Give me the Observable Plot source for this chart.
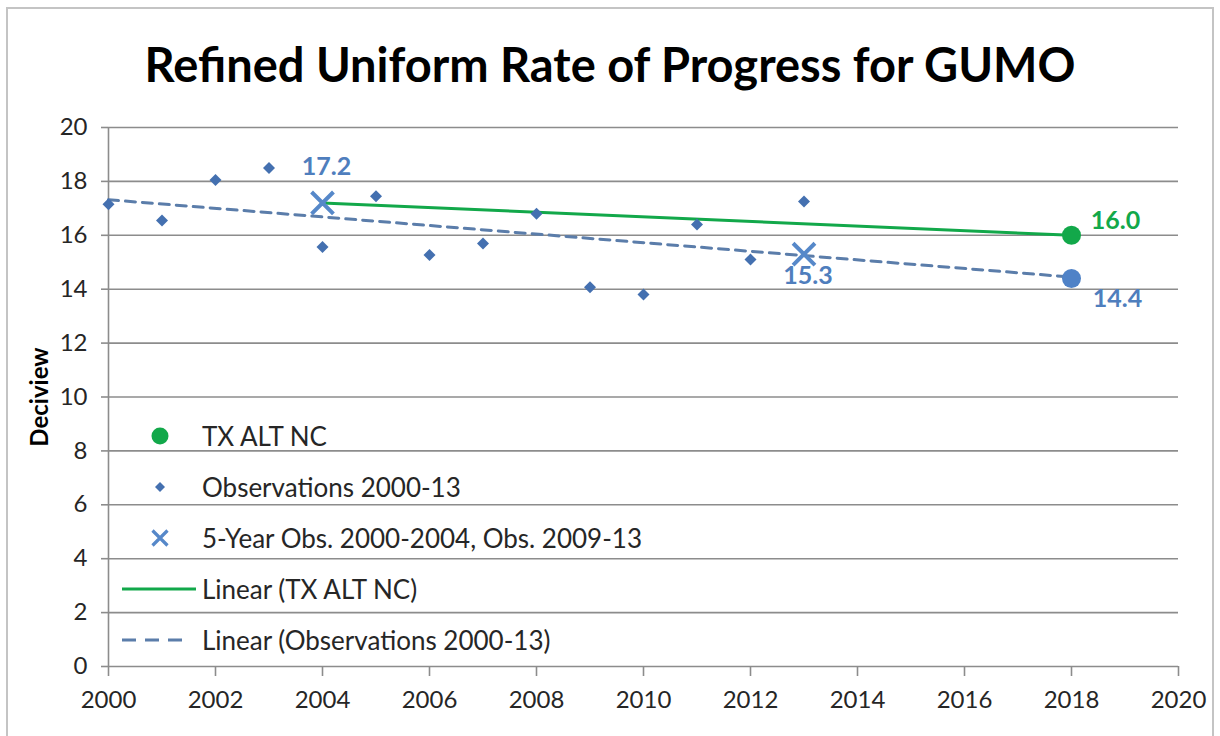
<!DOCTYPE html>
<html><head><meta charset="utf-8">
<script src="https://cdn.jsdelivr.net/npm/d3@7"></script>
<script src="https://cdn.jsdelivr.net/npm/@observablehq/plot@0.6"></script>
<style>
body{margin:0;background:#fff;}
#chart{position:relative;width:1220px;height:736px;overflow:hidden;font-family:Lato,sans-serif;background:#fff;}
#frame{position:absolute;left:6px;top:7px;width:1204px;height:740px;border:2px solid #c4c4c4;}
#title{position:absolute;left:0;top:34px;width:1220px;text-align:center;font-weight:700;font-size:47px;color:#000;line-height:60px;}
#plot{position:absolute;left:0;top:100px;}
#legend{position:absolute;left:110px;top:411px;font-size:26px;color:#262626;}
.row{position:absolute;left:0;height:50px;display:flex;align-items:center;white-space:nowrap;}
.row svg{width:92px;height:50px;flex:none;}
</style></head>
<body>
<div id="chart">
  <div id="frame"></div>
  <div id="title"></div>
  <div id="plot"></div>
  <div id="legend"></div>
</div>
<script>
const titleText = "Refined Uniform Rate of Progress for GUMO";
const yLabel = "Deciview";

const obsYears  = [2000,2001,2002,2003,2004,2005,2006,2007,2008,2009,2010,2011,2012,2013];
const obsValues = [17.15,16.55,18.05,18.5,15.57,17.45,15.27,15.7,16.8,14.07,13.8,16.4,15.1,17.25];

const fiveYearYears  = [2004, 2013];
const fiveYearValues = [17.2, 15.3];

const txAltYears  = [2004, 2018];
const txAltValues = [17.2, 16.0];

const obsTrendYears  = [2000, 2018];
const obsTrendValues = [17.32, 14.45];

const endYear = 2018;
const txAltEnd = 16.0;
const obsEnd = 14.4;

const xTicks = [2000,2002,2004,2006,2008,2010,2012,2014,2016,2018,2020];
const yTicks = [0,2,4,6,8,10,12,14,16,18,20];

const legendLabels = ["TX ALT NC","Observations 2000-13","5-Year Obs. 2000-2004, Obs. 2009-13","Linear (TX ALT NC)","Linear (Observations 2000-13)"];

const zip = (xs, ys) => xs.map((x, i) => ({year: x, value: ys[i]}));
const obs = zip(obsYears, obsValues);
const fiveYear = zip(fiveYearYears, fiveYearValues);
const txAlt = zip(txAltYears, txAltValues);
const obsTrend = zip(obsTrendYears, obsTrendValues);
const greenEnd = [{year: endYear, value: txAltEnd}];
const blueEnd = [{year: endYear, value: obsEnd}];

const GREEN = "#12a84a", BLUE_D = "#4470b0", BLUE_X = "#5688c9", BLUE_C = "#4f82c7", DASH = "#5b7daa", LABEL_BLUE = "#4f7ebd", GRID = "#8c8c8c";

document.getElementById("title").textContent = titleText;

const fmt1 = d3.format(".1f");

const plot = Plot.plot({
  width: 1220, height: 636,
  marginLeft: 108, marginRight: 42, marginTop: 27, marginBottom: 70,
  style: {fontFamily: "Lato, sans-serif", fontSize: "24px", color: "#262626", background: "transparent", overflow: "visible"},
  x: {domain: [2000, 2020]},
  y: {domain: [0, 20]},
  marks: [
    Plot.gridY(yTicks, {stroke: GRID, strokeOpacity: 1, strokeWidth: 1.6}),
    Plot.axisY(yTicks, {tickSize: 7, tickPadding: 14, stroke: GRID, strokeWidth: 1.6, label: yLabel, labelAnchor: "center", labelArrow: "none", labelOffset: 78, fontSize: 24}),
    Plot.ruleX([2000], {stroke: GRID, strokeWidth: 1.6}),
    Plot.axisX(xTicks, {tickSize: 10, tickPadding: 14, stroke: GRID, strokeWidth: 1.6, tickFormat: "d", label: null, fontSize: 24}),
    Plot.line(obsTrend, {x: "year", y: "value", stroke: DASH, strokeWidth: 3, strokeDasharray: "10,7"}),
    Plot.line(txAlt, {x: "year", y: "value", stroke: GREEN, strokeWidth: 3}),
    Plot.dot(obs, {x: "year", y: "value", symbol: "diamond2", r: 5.4, fill: BLUE_D, stroke: "none"}),
    Plot.dot(fiveYear, {x: "year", y: "value", symbol: "times", r: 10, stroke: BLUE_X, strokeWidth: 4}),
    Plot.dot(greenEnd, {x: "year", y: "value", r: 9.5, fill: GREEN, stroke: "none"}),
    Plot.dot(blueEnd, {x: "year", y: "value", r: 9.5, fill: BLUE_C, stroke: "none"}),
    Plot.text(fiveYear.slice(0,1), {x: "year", y: "value", text: d => fmt1(d.value), dy: -36, dx: 4, fill: LABEL_BLUE, fontWeight: 700, fontSize: 25}),
    Plot.text(fiveYear.slice(1), {x: "year", y: "value", text: d => fmt1(d.value), dy: 22, dx: 4, fill: LABEL_BLUE, fontWeight: 700, fontSize: 25}),
    Plot.text(greenEnd, {x: "year", y: "value", text: d => fmt1(d.value), dx: 44, dy: -14, fill: GREEN, fontWeight: 700, fontSize: 25}),
    Plot.text(blueEnd, {x: "year", y: "value", text: d => fmt1(d.value), dx: 46, dy: 21, fill: LABEL_BLUE, fontWeight: 700, fontSize: 25})
  ]
});
document.getElementById("plot").appendChild(plot);
const yl = plot.querySelector('[aria-label="y-axis label"]');
if (yl) { yl.setAttribute("font-weight", "700"); yl.setAttribute("font-size", "24"); yl.style.fontWeight = "700"; yl.style.fill = "#000"; }

// legend
const sym = [
  `<circle cx="50" cy="25" r="8.5" fill="${GREEN}"/>`,
  `<path d="M50,20L55,25L50,30L45,25Z" fill="${BLUE_D}"/>`,
  `<path d="M42.5,17.5L57.5,32.5M57.5,17.5L42.5,32.5" stroke="${BLUE_X}" stroke-width="3.2"/>`,
  `<line x1="12" y1="25" x2="86" y2="25" stroke="${GREEN}" stroke-width="3.2"/>`,
  `<line x1="12" y1="25" x2="80" y2="25" stroke="${DASH}" stroke-width="3.2" stroke-dasharray="14,9"/>`
];
const lg = document.getElementById("legend");
legendLabels.forEach((t, i) => {
  const r = document.createElement("div");
  r.className = "row";
  r.style.top = (i * 51) + "px";
  r.innerHTML = `<svg viewBox="0 0 92 50">${sym[i]}</svg><span>${t}</span>`;
  lg.appendChild(r);
});
</script>
</body></html>
